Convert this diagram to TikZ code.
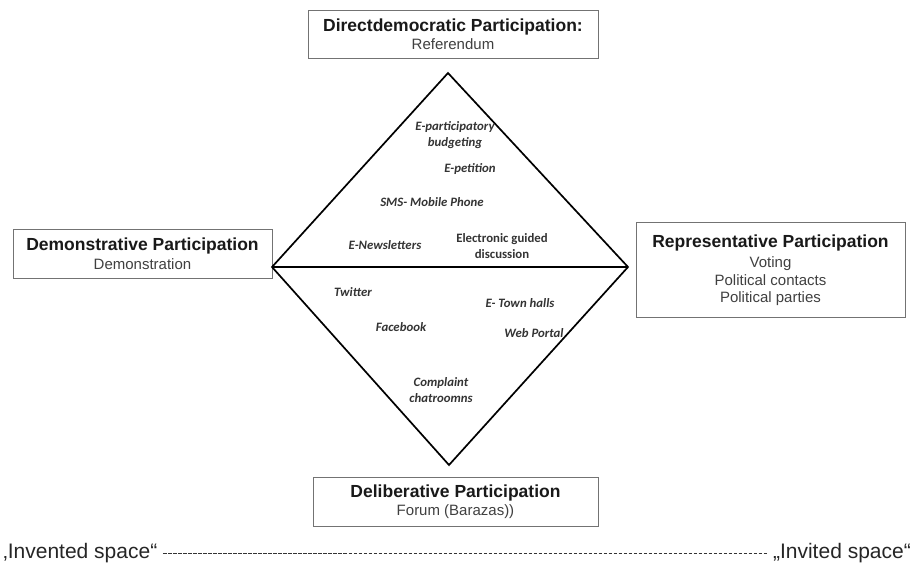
\documentclass[tikz,border=0pt]{standalone}
\usepackage{fontspec}
\setmainfont{Liberation Sans}
\newfontfamily\carlfont{Carlito}
\begin{document}
\begin{tikzpicture}[x=1pt,y=-1pt,
  box/.style={draw=black!55,line width=0.8pt,fill=white,inner sep=0pt,align=center,
    text=black!75,font=\fontsize{15}{17.5}\selectfont},
  item/.style={inner sep=0pt,align=center,text=black!80,
    font=\carlfont\bfseries\itshape\fontsize{12.8}{15.5}\selectfont},
  itemup/.style={item,font=\carlfont\bfseries\fontsize{12.8}{15.5}\selectfont},
  dia/.style={draw=black,line width=1.7pt,line join=miter}]
\useasboundingbox (0,0) rectangle (913,573);
% boxes
\newcommand{\ttl}[1]{{\fontsize{17.5}{19}\selectfont\bfseries\color{black!90}#1}}
\node[box,minimum width=290pt,minimum height=48pt] (top) at (453,34)
  {\ttl{Directdemocratic Participation:}\\[1pt]Referendum};
\node[box,minimum width=259pt,minimum height=49pt] (left) at (142.5,253.5)
  {\ttl{Demonstrative Participation}\\[2pt]Demonstration};
\node[box,minimum width=269pt,minimum height=95pt] (right) at (770.5,270)
  {\ttl{Representative Participation}\\[3pt]Voting\\Political contacts\\Political parties};
\node[box,minimum width=285pt,minimum height=49pt] (bottom) at (455.5,501.5)
  {\ttl{Deliberative Participation}\\[1pt]Forum (Barazas))};
% diamond
\coordinate (T) at (448,73);
\coordinate (L) at (272,267);
\coordinate (R) at (628,267);
\coordinate (B) at (449,465);
\draw[dia] (T) -- (R) -- (B) -- (L) -- cycle;
\draw[dia] (L) -- (R);
% items
\node[item] (i1) at (455,135) {E-participatory\\budgeting};
\node[item] (i2) at (470,169) {E-petition};
\node[item] (i3) at (432,202) {SMS- Mobile Phone};
\node[item] (i4) at (385,245) {E-Newsletters};
\node[itemup] (i5) at (502,246) {Electronic guided\\discussion};
\node[item] (i6) at (353,292) {Twitter};
\node[item] (i7) at (520,303) {E- Town halls};
\node[item] (i8) at (401,327) {Facebook};
\node[item] (i9) at (534,333) {Web Portal};
\node[item] (i10) at (441,390) {Complaint\\chatroomns};
% bottom scale
\node[inner sep=0pt,anchor=west,font=\fontsize{21}{23}\selectfont,text=black!85] (inv) at (3,553) {‚Invented space“};
\node[inner sep=0pt,anchor=east,font=\fontsize{21}{23}\selectfont,text=black!85] (invi) at (911,553) {„Invited space“};
\draw[black!80,line width=1pt,dash pattern=on 3.5pt off 1.5pt] ([xshift=6pt]inv.east) -- ([xshift=-6pt]invi.west);
\end{tikzpicture}
\end{document}
